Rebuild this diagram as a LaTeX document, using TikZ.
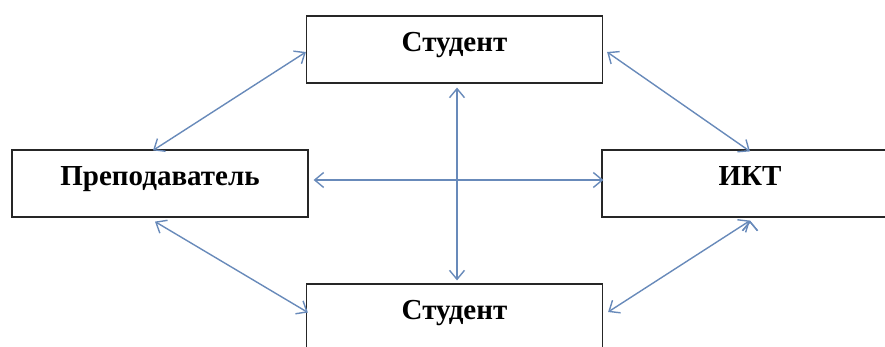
\documentclass[tikz,border=0pt]{standalone}
\usepackage{fontspec}
\setmainfont{Liberation Serif}
\usetikzlibrary{arrows.meta}
\definecolor{linkblue}{RGB}{104,138,186}

\begin{document}
\begin{tikzpicture}[x=1pt, y=-1pt, <->, >={Straight Barb[length=9pt,width=15pt]},
                    line width=1.4pt]
  \tikzstyle{box}=[draw=black!85, line width=1.2pt, minimum width=296pt, minimum height=67pt,
                   inner sep=0pt, text height=0.7em, text depth=0.35em,
                   font=\bfseries\fontsize{29}{32}\selectfont]
  \path[use as bounding box, clip] (0,0) rectangle (885,347);

  \node[box] (stud1) at (454.5,49.5)  {Студент};
  \node[box] (prep)  at (160,183.5)   {Преподаватель};
  \node[box] (ikt)   at (750,183.5)   {ИКТ};
  \node[box] (stud2) at (454.5,317.5) {Студент};

  \path[draw=linkblue]
        ([xshift=-7pt,yshift=-1pt]prep.north) edge ([yshift=-2.5pt]stud1.west)
        ([xshift=-5pt,yshift=-4pt]prep.south) edge ([xshift=2pt,yshift=5pt]stud2.west)
        ([xshift=5pt,yshift=3.5pt]prep.east)  edge ([xshift=2pt,yshift=3.5pt]ikt.west)
        ([xshift=2.5pt,yshift=-4pt]stud1.south) edge ([xshift=2.5pt,yshift=3pt]stud2.north)
        ([xshift=4pt,yshift=-2.5pt]stud1.east) edge ([yshift=-2pt]ikt.north)
        ([yshift=-3pt]ikt.south) edge ([xshift=5pt,yshift=5.5pt]stud2.east);
\end{tikzpicture}
\end{document}
